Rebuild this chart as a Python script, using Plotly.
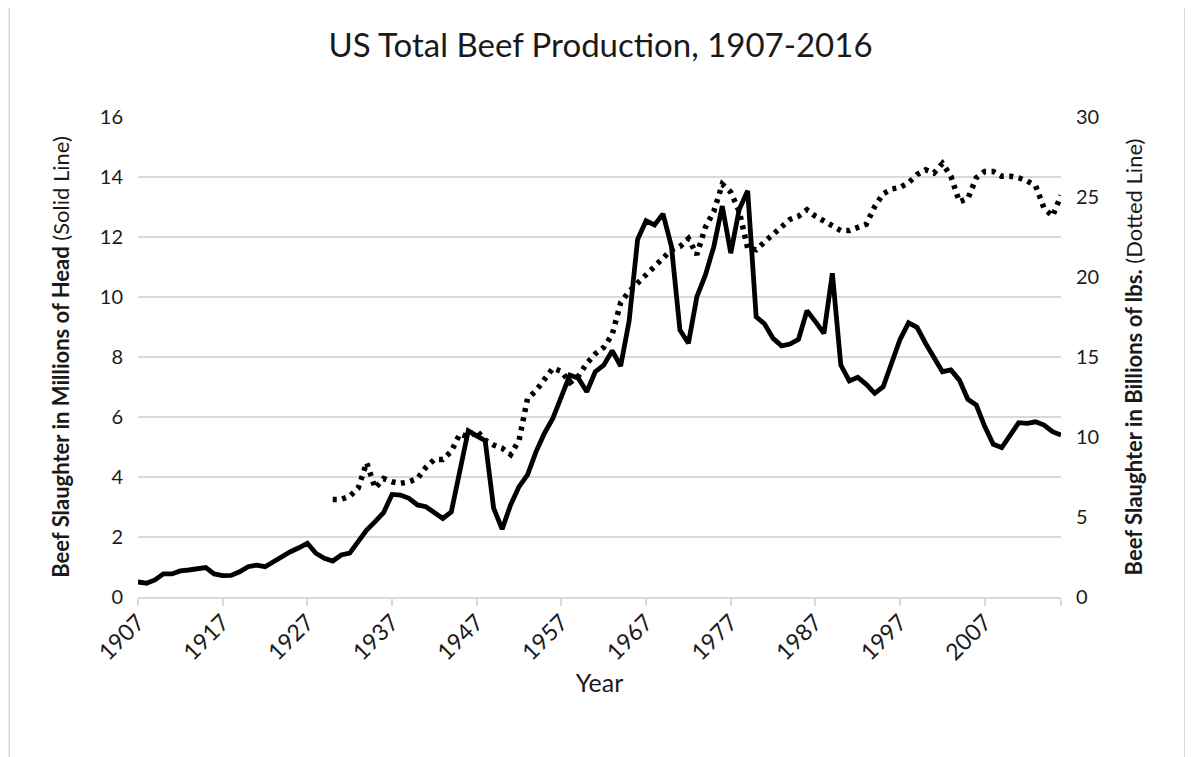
import plotly.graph_objects as go

# solid line: beef slaughter, millions of head (left axis)
years = list(range(1907, 2017))
head_millions = [
    0.50, 0.46, 0.57, 0.77, 0.77, 0.87, 0.90, 0.96, 0.98, 0.77,
    0.71, 0.72, 0.84, 1.01, 1.06, 1.01, 1.18, 1.34, 1.51, 1.64,
    1.79, 1.46, 1.29, 1.20, 1.40, 1.46, 1.84, 2.23, 2.51, 2.81,
    3.42, 3.40, 3.29, 3.07, 3.01, 2.79, 2.62, 2.84, 4.12, 5.54,
    5.37, 5.21, 2.96, 2.26, 3.07, 3.68, 4.07, 4.84, 5.46, 5.96,
    6.68, 7.40, 7.29, 6.84, 7.51, 7.73, 8.21, 7.70, 9.20, 11.92,
    12.54, 12.40, 12.77, 11.68, 8.90, 8.46, 10.01, 10.73, 11.68, 13.03,
    11.46, 12.92, 13.54, 9.34, 9.10, 8.62, 8.37, 8.43, 8.59, 9.54,
    9.18, 8.79, 10.79, 7.73, 7.20, 7.32, 7.09, 6.79, 7.01, 7.79,
    8.59, 9.14, 8.99, 8.46, 7.96, 7.51, 7.57, 7.23, 6.59, 6.40,
    5.68, 5.09, 4.98, 5.37, 5.81, 5.79, 5.84, 5.73, 5.51, 5.40,
]

# dotted line: beef slaughter, billions of lbs (right axis)
lbs_years = list(range(1930, 2017))
lbs_billions = [
    6.1, 6.1, 6.3, 6.8, 8.4, 6.8, 7.4, 7.2, 7.1, 7.2,
    7.4, 8.1, 8.6, 8.6, 9.1, 10.2, 10.0, 10.4, 9.8, 9.5,
    9.3, 8.9, 9.8, 12.4, 12.9, 13.6, 14.3, 14.1, 13.4, 13.8,
    14.6, 15.2, 15.6, 16.4, 18.4, 19.1, 19.6, 20.2, 20.7, 21.2,
    21.7, 21.9, 22.4, 21.4, 23.1, 24.1, 25.8, 25.3, 24.1, 21.8,
    21.7, 22.2, 22.7, 23.2, 23.6, 23.8, 24.2, 23.8, 23.5, 23.2,
    22.9, 22.9, 23.1, 23.3, 24.4, 25.2, 25.5, 25.6, 25.9, 26.4,
    26.7, 26.5, 27.1, 26.3, 24.7, 24.9, 26.2, 26.6, 26.6, 26.3,
    26.3, 26.2, 26.0, 25.7, 24.3, 23.8, 25.1,
]

tick_years = list(range(1907, 2008, 10)) + [2016]
tick_text = [str(y) for y in range(1907, 2008, 10)] + [""]

font = "Lato, 'Open Sans', sans-serif"

fig = go.Figure()
fig.add_trace(go.Scatter(x=years, y=head_millions, mode="lines",
                         line=dict(color="black", width=4.8),
                         showlegend=False))
fig.add_trace(go.Scatter(x=lbs_years, y=lbs_billions, mode="lines", yaxis="y2",
                         line=dict(color="black", width=5.5, dash="4px,5.5px"),
                         showlegend=False))

# page body has an 8px margin, so the figure is sized to fit inside it
fig.update_layout(
    width=1185, height=749,
    margin=dict(l=130, r=132, t=109, b=160),
    paper_bgcolor="white", plot_bgcolor="white",
    font=dict(family=font, color="#1a1a1a", size=20),
    title=dict(text="US Total Beef Production, 1907-2016", x=0.5, xanchor="center",
               y=0.95, yanchor="middle", font=dict(size=33, color="#1a1a1a")),
    xaxis=dict(range=[1907, 2016], tickvals=tick_years, ticktext=tick_text,
               tickangle=-45, showgrid=False, showline=True, linecolor="#d9d9d9",
               linewidth=1.5, ticks="outside", ticklen=7, tickcolor="#d9d9d9",
               tickwidth=1.5, tickfont=dict(size=23), ticklabelstandoff=-6,
               title=dict(text="Year", font=dict(size=25), standoff=10),
               zeroline=False),
    yaxis=dict(range=[0, 16], dtick=2, showgrid=True, gridcolor="#d9d9d9",
               gridwidth=1.5, zeroline=False, ticks="", ticklabelstandoff=14,
               title=dict(text="<b>Beef Slaughter in Millions of Head</b> (Solid Line)",
                          font=dict(size=22), standoff=24)),
    yaxis2=dict(range=[0, 30], dtick=5, overlaying="y", side="right",
                showgrid=False, zeroline=False, ticks="", ticklabelstandoff=14,
                title=dict(text="<b>Beef Slaughter in Billions of lbs.</b> (Dotted Line)",
                           font=dict(size=22), standoff=28)),
    shapes=[dict(type="rect", xref="paper", yref="paper",
                 x0=-0.1395, x1=1.134, y0=-0.34, y1=1.245,
                 line=dict(color="#d9d9d9", width=1.5))],
)

fig.write_html("out.html")
